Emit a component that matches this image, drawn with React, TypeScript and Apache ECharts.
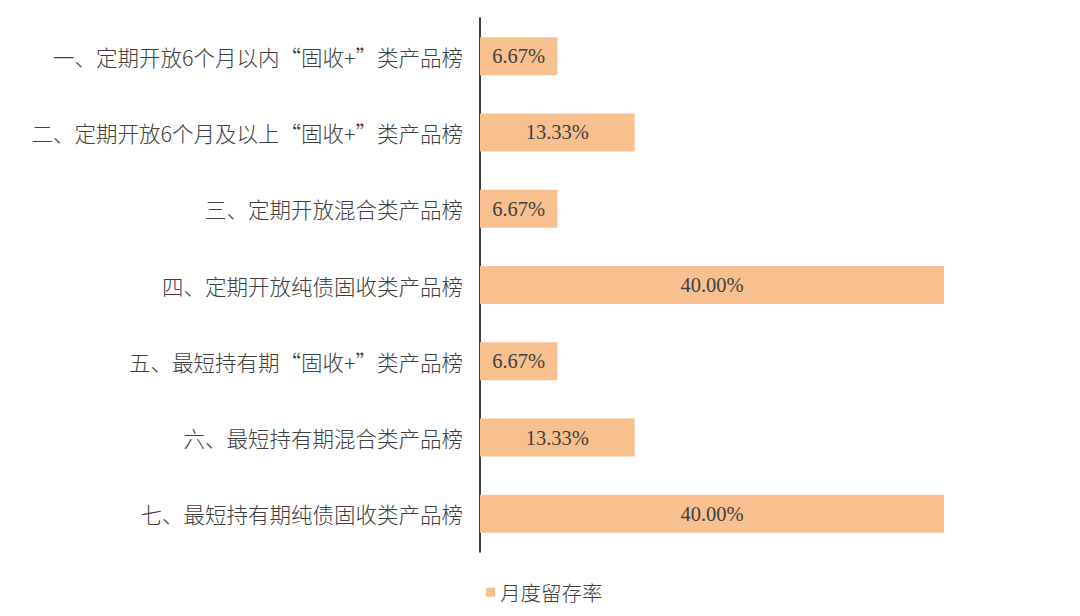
import React, { useEffect, useRef } from 'react'
import * as echarts from 'echarts'

const categories = [
    '一、定期开放6个月以内“固收+”类产品榜',
    '二、定期开放6个月及以上“固收+”类产品榜',
    '三、定期开放混合类产品榜',
    '四、定期开放纯债固收类产品榜',
    '五、最短持有期“固收+”类产品榜',
    '六、最短持有期混合类产品榜',
    '七、最短持有期纯债固收类产品榜',
]
const retentionRates = [6.67, 13.33, 6.67, 40.0, 6.67, 13.33, 40.0]
const seriesName = '月度留存率'

const App: React.FC = () => {
    const chartRef = useRef<HTMLDivElement | null>(null)

    useEffect(() => {
        document.body.style.margin = '0'
        if (!chartRef.current) return
        const chart = echarts.init(chartRef.current, undefined, { renderer: 'svg' })

        chart.setOption({
            animation: false,
            backgroundColor: '#ffffff',
            grid: {
                left: 480,
                top: 18,
                width: 464,
                height: 534,
                containLabel: false,
            },
            legend: {
                data: [seriesName],
                left: 481,
                top: 577,
                icon: 'rect',
                itemWidth: 9,
                itemHeight: 9,
                itemGap: 6,
                textStyle: {
                    color: '#404040',
                    fontSize: 20.5,
                    fontWeight: 300,
                    fontFamily: 'Noto Sans CJK SC',
                },
            },
            xAxis: {
                type: 'value',
                min: 0,
                max: 40,
                show: false,
            },
            yAxis: {
                type: 'category',
                inverse: true,
                data: categories,
                axisTick: { show: false },
                axisLine: { lineStyle: { color: '#000000', width: 1.5 } },
                axisLabel: {
                    margin: 17,
                    color: '#404040',
                    fontSize: 21.5,
                    fontWeight: 300,
                    fontFamily: 'Noto Sans CJK SC',
                },
                splitLine: { show: false },
            },
            series: [
                {
                    name: seriesName,
                    type: 'bar',
                    data: retentionRates,
                    barWidth: 38,
                    itemStyle: { color: '#F8C08F' },
                    label: {
                        show: true,
                        position: 'inside',
                        color: '#404040',
                        fontSize: 20.5,
                        fontFamily: 'Liberation Serif',
                        formatter: (p: any) => p.value.toFixed(2) + '%',
                    },
                },
            ],
        })

        return () => {
            chart.dispose()
        }
    }, [])

    return <div ref={chartRef} style={{ width: '1080px', height: '616px' }} />
}

export default App
